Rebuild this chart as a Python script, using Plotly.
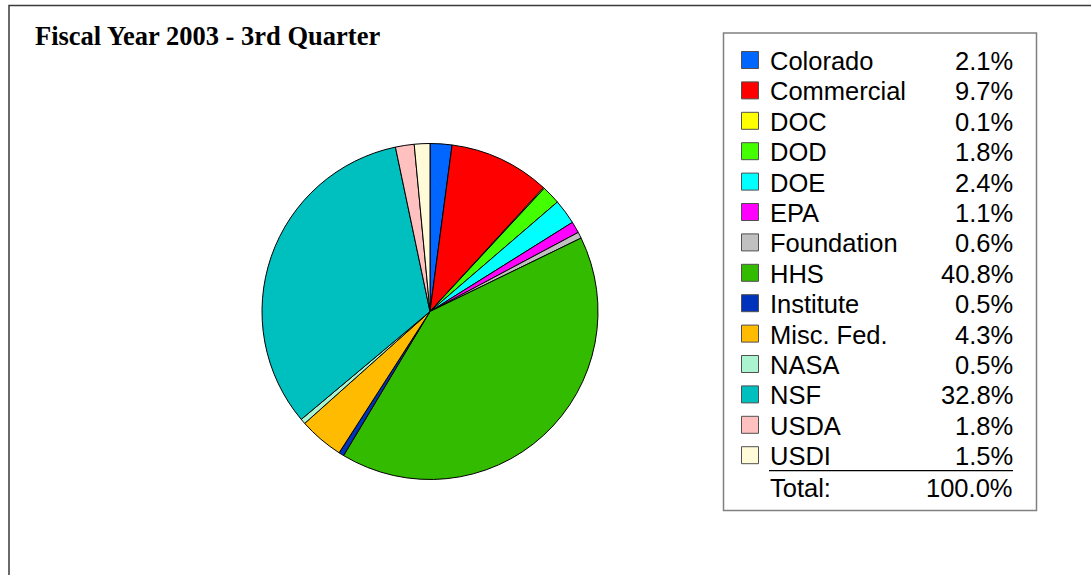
import plotly.graph_objects as go

# ---- data ----
categories = ["Colorado", "Commercial", "DOC", "DOD", "DOE", "EPA", "Foundation",
              "HHS", "Institute", "Misc. Fed.", "NASA", "NSF", "USDA", "USDI"]
percent = [2.1, 9.7, 0.1, 1.8, 2.4, 1.1, 0.6, 40.8, 0.5, 4.3, 0.5, 32.8, 1.8, 1.5]
colors = ["#0066FF", "#FF0000", "#FFFF00", "#44FF00", "#00FFFF", "#FF00FF", "#C0C0C0",
          "#33BB00", "#0033BB", "#FFBB00", "#AAF5D0", "#00BFBF", "#FFC0C0", "#FFFAD8"]
title_text = "Fiscal Year 2003 - 3rd Quarter"
total_label = "Total:"

W, H = 1091, 575

def px(x):
    return x / W

def py(y):
    return 1 - y / H

fig = go.Figure()
fig.add_trace(go.Pie(
    labels=categories, values=percent, sort=False, direction="clockwise", rotation=0,
    marker=dict(colors=colors, line=dict(color="#000000", width=1)),
    textinfo="none", hoverinfo="label+percent", showlegend=False,
    domain=dict(x=[px(262), px(598)], y=[py(480), py(143)]),
))

shapes = []
annotations = []

# outer frame
shapes.append(dict(type="rect", xref="paper", yref="paper",
                   x0=px(9), x1=px(W + 20), y0=py(H + 20), y1=py(5.5),
                   line=dict(color="#3a3a3a", width=1.5), fillcolor="rgba(0,0,0,0)"))
# legend box
shapes.append(dict(type="rect", xref="paper", yref="paper",
                   x0=px(723.5), x1=px(1036.5), y0=py(510.5), y1=py(33),
                   line=dict(color="#808080", width=1.5), fillcolor="rgba(0,0,0,0)"))

annotations.append(dict(text="<b>" + title_text + "</b>", xref="paper", yref="paper",
                        x=px(33), y=py(36), xanchor="left", yanchor="middle", showarrow=False,
                        font=dict(family="Liberation Serif", size=26.5, color="#000000")))

row0, step = 60, 30.4
font_l = dict(family="Liberation Sans, Arial", size=25.5, color="#000000")
for i, (c, p, col) in enumerate(zip(categories, percent, colors)):
    yc = row0 + i * step
    shapes.append(dict(type="rect", xref="paper", yref="paper",
                       x0=px(741.5), x1=px(758.5), y0=py(yc + 8.5), y1=py(yc - 8.5),
                       line=dict(color="#505050", width=1), fillcolor=col))
    annotations.append(dict(text=c, xref="paper", yref="paper", x=px(768), y=py(yc + 1),
                            xanchor="left", yanchor="middle", showarrow=False, font=font_l))
    annotations.append(dict(text=f"{p:.1f}%", xref="paper", yref="paper", x=px(1015), y=py(yc + 1),
                            xanchor="right", yanchor="middle", showarrow=False, font=font_l))

total = sum(percent)
y_line = row0 + len(categories) * step - 15
shapes.append(dict(type="line", xref="paper", yref="paper",
                   x0=px(769), x1=px(1013), y0=py(y_line), y1=py(y_line),
                   line=dict(color="#000000", width=1.2)))
yt = row0 + len(categories) * step + 2
annotations.append(dict(text=total_label, xref="paper", yref="paper", x=px(768), y=py(yt),
                        xanchor="left", yanchor="middle", showarrow=False, font=font_l))
annotations.append(dict(text=f"{total:.1f}%", xref="paper", yref="paper", x=px(1015), y=py(yt),
                        xanchor="right", yanchor="middle", showarrow=False, font=font_l))

fig.update_layout(width=W, height=H, margin=dict(l=0, r=0, t=0, b=0),
                  paper_bgcolor="#FFFFFF", plot_bgcolor="#FFFFFF",
                  shapes=shapes, annotations=annotations)
fig.write_html("out.html", config={"displayModeBar": False},
               post_script="document.body.style.margin='0';document.body.style.overflow='hidden';")
